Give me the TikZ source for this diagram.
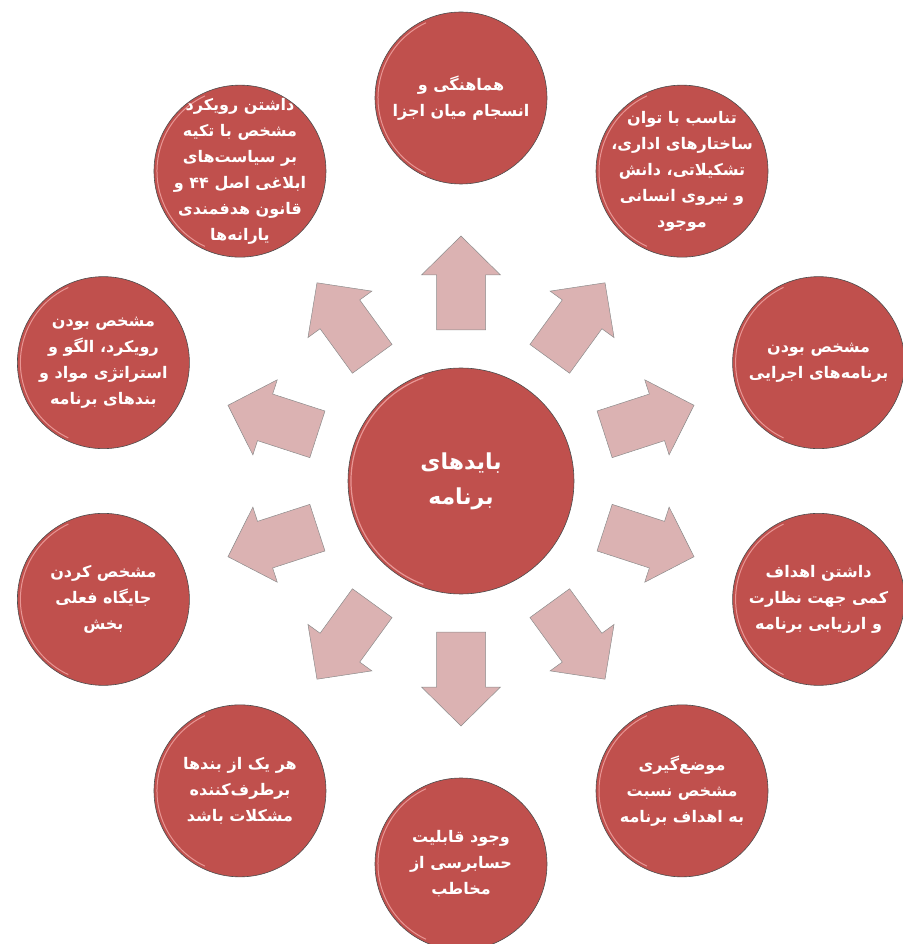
\documentclass[tikz,border=0pt]{standalone}
\usepackage{fontspec}
\usetikzlibrary{positioning}

\newfontfamily\arabicfont[Script=Arabic]{DejaVu Sans}
\TeXXeTstate=1
\newcommand{\rl}[1]{\beginR#1\endR}

\definecolor{circlered}{RGB}{192,80,77}
\definecolor{circlerim}{RGB}{232,150,148}
\definecolor{arrowpink}{RGB}{219,178,178}

\tikzset{
  goal/.style={circle, fill=circlered, draw=black!70, line width=0.6pt,
    minimum size=172pt, inner sep=0pt},
  goaltext/.style={inner sep=0pt, text=white, align=center,
    font=\arabicfont\bfseries\fontsize{16}{26}\selectfont},
  hubcircle/.style={goal, minimum size=226pt, text=white, align=center,
    font=\arabicfont\bfseries\fontsize{22}{35}\selectfont},
  blockarrow/.style={fill=arrowpink, draw=black!45, line width=0.5pt, line join=miter}
}

\begin{document}
\begin{tikzpicture}[x=1pt, y=1pt]

  \useasboundingbox (-461,-463) rectangle (441,481);

  % The centre circle.
  \node [hubcircle] (hub) at (0,0) {\rl{بایدهای}\\\rl{برنامه}};
  \draw [circlerim, line width=1.2pt] ([shift={(110:110)}]hub.center) arc (110:250:110);

  % The block arrows, pointing out from the centre.
  \foreach \a in {90,54,...,-234}
  {
    \begin{scope}[shift={(hub.center)}, rotate=\a]
      \draw [blockarrow] (151,-24.5) -- (206,-24.5) -- (206,-39.5) -- (245,0)
        -- (206,39.5) -- (206,24.5) -- (151,24.5) -- cycle;
    \end{scope}
  }

  % The ten outer circles.
  \foreach \a/\n/\t in {
    90/harmony/{\rl{هماهنگی و}\\\rl{انسجام میان اجزا}},
    54/capacity/{\rl{تناسب با توان}\\\rl{ساختارهای اداری،}\\\rl{تشکیلاتی، دانش}\\\rl{و نیروی انسانی}\\\rl{موجود}},
    18/programs/{\rl{مشخص بودن}\\\rl{برنامه‌های اجرایی}},
    -18/targets/{\rl{داشتن اهداف}\\\rl{کمی جهت نظارت}\\\rl{و ارزیابی  برنامه}},
    -54/position/{\rl{موضع‌گیری}\\\rl{مشخص نسبت}\\\rl{به اهداف برنامه}},
    -90/audit/{\rl{وجود قابلیت}\\\rl{حسابرسی از}\\\rl{مخاطب}},
    -126/problems/{\rl{هر یک از بندها}\\\rl{برطرف‌کننده}\\\rl{مشکلات  باشد}},
    -162/status/{\rl{مشخص کردن}\\\rl{جایگاه فعلی}\\\rl{بخش}},
    162/approach/{\rl{مشخص بودن}\\\rl{رویکرد، الگو و}\\\rl{استراتژی مواد و}\\\rl{بندهای برنامه}},
    126/policy/{\rl{داشتن رویکرد}\\\rl{مشخص با تکیه}\\\rl{بر سیاست‌های}\\\rl{ابلاغی اصل ۴۴ و}\\\rl{قانون هدفمندی}\\\rl{یارانه‌ها}}}
  {
    \node [goal] (\n) at ([shift={(\a:376 and 383)}]hub.center) {};
    \draw [circlerim, line width=1pt] ([shift={(115:83)}]\n.center) arc (115:245:83);
    \node [goaltext] (\n-text) at (\n) {\t};
  }

\end{tikzpicture}
\end{document}
